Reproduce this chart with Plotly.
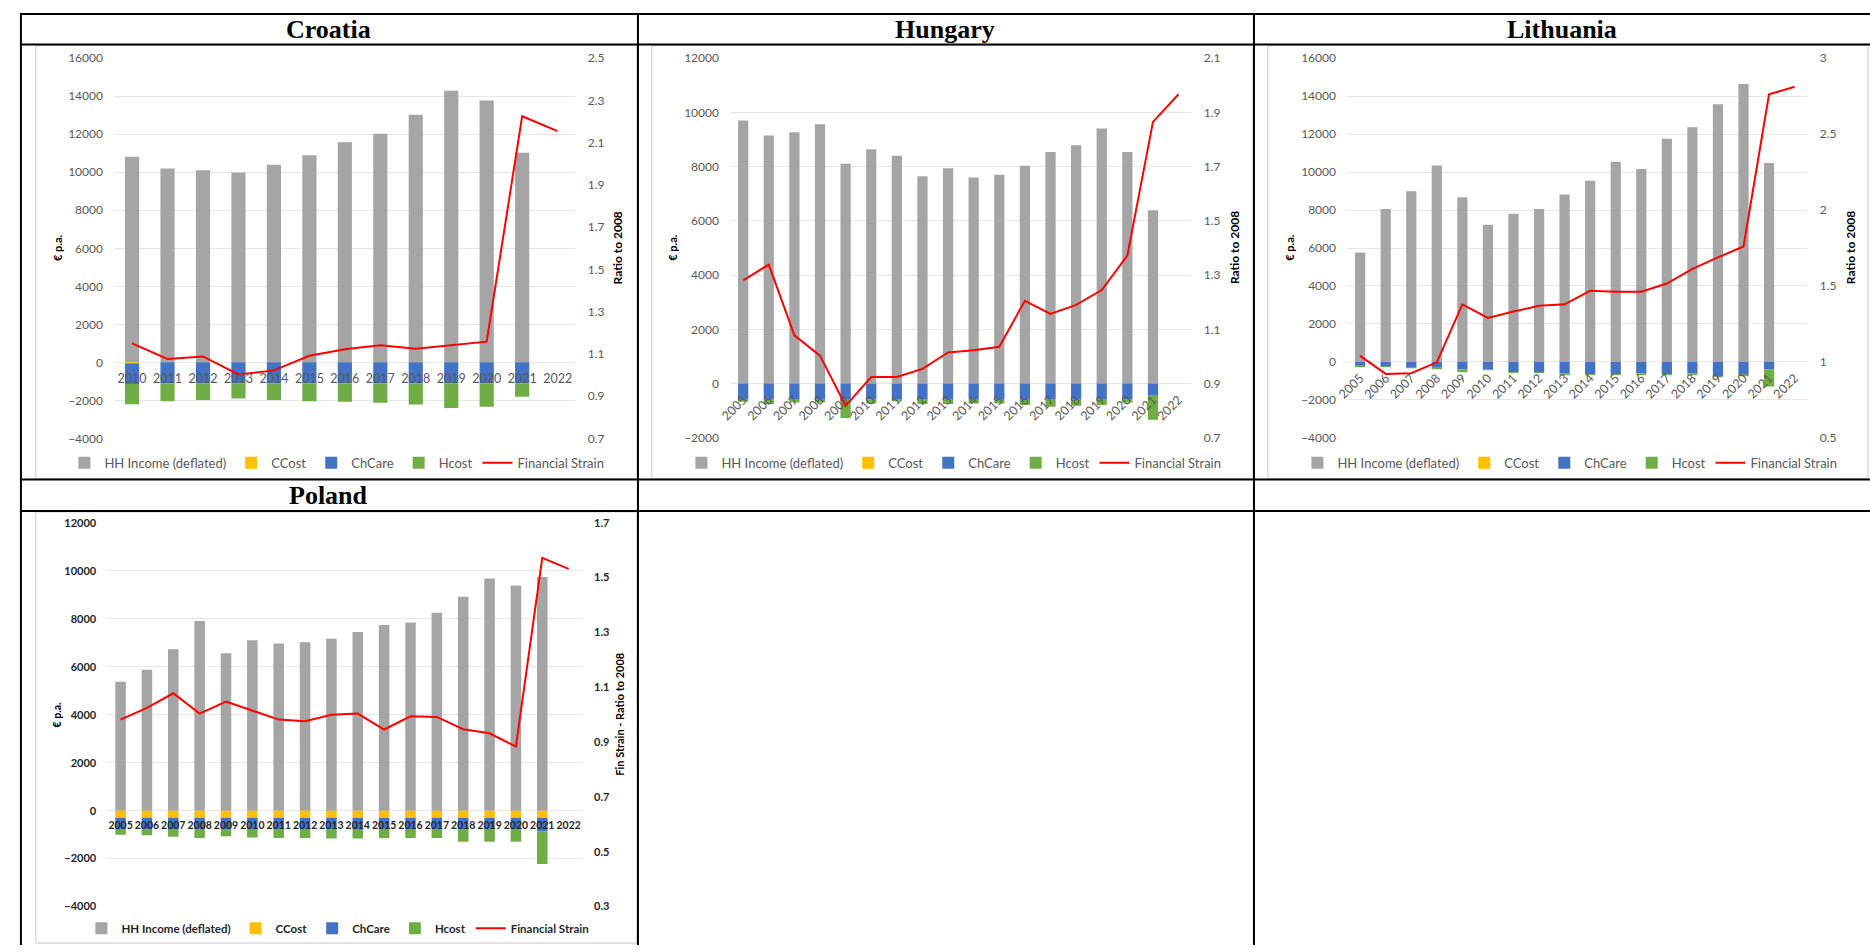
import plotly.graph_objects as go

W, H = 1870, 952

# ---- Croatia -------------------------------------------------------------
HR_YEARS = ["2010", "2011", "2012", "2013", "2014", "2015", "2016",
            "2017", "2018", "2019", "2020", "2021", "2022"]
HR_INCOME = [10820, 10200, 10100, 9990, 10400, 10890, 11580, 12030, 13030, 14290, 13770, 11030, None]
HR_CCOST = [-40, 0, 0, 0, 0, 0, 0, 0, 0, 0, 0, 0, None]
HR_CHCARE = [-1100, -1100, -1100, -1100, -1100, -1100, -1100, -1100, -1100, -1100, -1100, -1100, None]
HR_HCOST = [-1060, -940, -880, -800, -880, -940, -970, -1020, -1110, -1300, -1230, -710, None]
HR_STRAIN = [1.150, 1.076, 1.088, 1.003, 1.022, 1.091, 1.122, 1.141, 1.125, 1.143, 1.158, 2.225, 2.155]

# ---- Hungary -------------------------------------------------------------
HU_YEARS = ["2005", "2006", "2007", "2008", "2009", "2010", "2011", "2012", "2013",
            "2014", "2015", "2016", "2017", "2018", "2019", "2020", "2021", "2022"]
HU_INCOME = [9700, 9150, 9270, 9560, 8110, 8640, 8400, 7650, 7940, 7600, 7700, 8030,
             8540, 8790, 9410, 8540, 6390, None]
HU_CCOST = [0, 0, 0, 0, 0, 0, 0, 0, 0, 0, 0, 0, 0, 0, 0, 0, 0, None]
HU_CHCARE = [-600, -600, -600, -600, -600, -600, -600, -600, -600, -600, -600, -600,
             -600, -600, -600, -600, -420, None]
HU_HCOST = [-70, -150, -100, -100, -670, -130, -40, -150, -150, -130, -130, -190,
            -250, -220, -190, -100, -910, None]
HU_STRAIN = [1.281, 1.339, 1.078, 1.003, 0.818, 0.924, 0.924, 0.954, 1.015, 1.023, 1.036,
             1.205, 1.157, 1.190, 1.245, 1.372, 1.865, 1.967]

# ---- Lithuania -----------------------------------------------------------
LT_YEARS = HU_YEARS
LT_INCOME = [5770, 8060, 8990, 10350, 8680, 7230, 7810, 8060, 8820, 9540, 10540, 10160,
             11750, 12360, 13570, 14640, 10480, None]
LT_CCOST = [0, 0, 0, 0, 0, 0, 0, 0, 0, 0, 0, 0, 0, 0, 0, 0, 0, None]
LT_CHCARE = [-220, -260, -310, -310, -400, -400, -550, -570, -600, -660, -660, -600,
             -660, -600, -780, -690, -400, None]
LT_HCOST = [-40, -10, -10, -30, -150, -20, -20, -20, -90, -20, -20, -90,
            -20, -50, -20, -50, -900, None]
LT_STRAIN = [1.040, 0.921, 0.926, 0.997, 1.379, 1.289, 1.332, 1.369, 1.379, 1.468, 1.462,
             1.462, 1.516, 1.613, 1.688, 1.760, 2.762, 2.812]

# ---- Poland --------------------------------------------------------------
PL_YEARS = HU_YEARS
PL_INCOME = [5370, 5870, 6730, 7900, 6560, 7100, 6970, 7020, 7170, 7450, 7740, 7840,
             8250, 8920, 9680, 9380, 9740, None]
PL_CCOST = [-300, -300, -300, -300, -300, -300, -300, -300, -300, -300, -300, -300,
            -300, -300, -300, -300, -300, None]
PL_CHCARE = [-500, -500, -500, -500, -500, -500, -500, -500, -500, -500, -500, -500,
             -500, -500, -500, -500, -560, None]
PL_HCOST = [-200, -230, -290, -340, -270, -320, -340, -340, -360, -360, -340, -340,
            -340, -500, -500, -500, -1360, None]
PL_STRAIN = [0.982, 1.025, 1.078, 1.004, 1.048, 1.016, 0.982, 0.976, 1.000, 1.004, 0.946,
             0.994, 0.992, 0.947, 0.932, 0.884, 1.572, 1.532]

SERIES_NAMES = ["HH Income (deflated)", "CCost", "ChCare", "Hcost", "Financial Strain"]
COLORS = ["#A5A5A5", "#FFC000", "#4472C4", "#70AD47", "#FF0000"]


def fx(px):
    return px / W


def fy(py):
    return 1 - py / H


# plot box in pixels: (left, right, top, bottom)
PANELS = [
    dict(title="Croatia", title_xy=(319, 22), years=HR_YEARS,
         bars=[HR_INCOME, HR_CCOST, HR_CHCARE, HR_HCOST], strain=HR_STRAIN,
         box=(103, 567, 51, 437.3), left=(-4000, 16000, 2000), right=(0.7, 2.5, 0.2),
         tickangle=0, legend_xy=(327, 462), ylab_x=(46, 609), ylab2="Ratio to 2008", heavy=False),
    dict(title="Hungary", title_xy=(939, 22), years=HU_YEARS,
         bars=[HU_INCOME, HU_CCOST, HU_CHCARE, HU_HCOST], strain=HU_STRAIN,
         box=(723, 1187, 51, 436.7), left=(-2000, 12000, 2000), right=(0.7, 2.1, 0.2),
         tickangle=-45, legend_xy=(948, 462), ylab_x=(664, 1230), ylab2="Ratio to 2008", heavy=False),
    dict(title="Lithuania", title_xy=(1560, 22), years=LT_YEARS,
         bars=[LT_INCOME, LT_CCOST, LT_CHCARE, LT_HCOST], strain=LT_STRAIN,
         box=(1344, 1807, 51, 436.7), left=(-4000, 16000, 2000), right=(0.5, 3.0, 0.5),
         tickangle=-45, legend_xy=(1568, 462), ylab_x=(1285, 1850), ylab2="Ratio to 2008", heavy=False),
    dict(title="Poland", title_xy=(319, 495), years=PL_YEARS,
         bars=[PL_INCOME, PL_CCOST, PL_CHCARE, PL_HCOST], strain=PL_STRAIN,
         box=(96, 573.5, 523, 913), left=(-4000, 12000, 2000), right=(0.3, 1.7, 0.2),
         tickangle=0, legend_xy=(328, 935), ylab_x=(45, 612), ylab2="Fin Strain - Ratio to 2008", heavy=True),
]

fig = go.Figure()
layout = dict(
    width=W, height=H, margin=dict(l=0, r=0, t=0, b=0),
    paper_bgcolor="white", plot_bgcolor="rgba(0,0,0,0)",
    barmode="relative", font=dict(family="Lato", size=12, color="#595959"),
    showlegend=True,
)
annotations = []
shapes = []

for i, p in enumerate(PANELS, start=1):
    xa = "x" if i == 1 else f"x{i}"
    ya = "y" if i == 1 else f"y{2 * i - 1}"
    ya2 = f"y{2 * i}"
    leg = "legend" if i == 1 else f"legend{i}"
    l, r, t, b = p["box"]
    lo, hi, step = p["left"]
    rlo, rhi, rstep = p["right"]
    n = len(p["years"])

    if p["heavy"]:
        tfont = dict(family="Lato", size=11, color="#262626", weight="bold")
        xfont = dict(family="Lato", size=10.5, color="#262626", weight="bold")
    else:
        tfont = dict(family="Lato", size=12, color="#595959")
        xfont = dict(family="Lato", size=12.5, color="#595959")

    # stacked bars: income above zero, cost components stacked below it
    for k in range(4):
        fig.add_trace(go.Bar(
            x=p["years"], y=p["bars"][k], name=SERIES_NAMES[k],
            marker=dict(color=COLORS[k], line=dict(width=0)), width=0.4,
            xaxis=xa, yaxis=ya, legend=leg, hoverinfo="x+y+name"))
    # financial strain ratio on the secondary axis
    fig.add_trace(go.Scatter(
        x=p["years"], y=p["strain"], name=SERIES_NAMES[4], mode="lines",
        line=dict(color=COLORS[4], width=2), xaxis=xa, yaxis=ya2, legend=leg))

    # category labels sit on the zero line of the money axis
    zero_px = t + (hi - 0) / (hi - lo) * (b - t)
    layout["xaxis" if i == 1 else f"xaxis{i}"] = dict(
        domain=[fx(l), fx(r)], anchor="free", position=fy(zero_px),
        type="category", categoryorder="array", categoryarray=p["years"],
        range=[-0.5, n - 0.5], showgrid=False, showline=False, zeroline=False,
        ticks="outside", ticklen=5 if p["tickangle"] == 0 else 3, tickcolor="rgba(0,0,0,0)",
        tickangle=p["tickangle"], tickfont=xfont, fixedrange=True)
    layout["yaxis" if i == 1 else f"yaxis{2 * i - 1}"] = dict(
        domain=[fy(b), fy(t)], anchor=xa, range=[lo, hi], tick0=lo, dtick=step,
        tickformat="d", showgrid=True, gridcolor="#E6E6E6", gridwidth=1,
        zeroline=True, zerolinecolor="#E6E6E6", zerolinewidth=1,
        showline=False, ticks="outside", ticklen=8, tickcolor="rgba(0,0,0,0)",
        tickfont=tfont, fixedrange=True)
    layout[f"yaxis{2 * i}"] = dict(
        overlaying=ya, side="right", anchor=xa, range=[rlo, rhi], tick0=rlo, dtick=rstep,
        showgrid=False, zeroline=False, showline=False,
        ticks="outside", ticklen=9, tickcolor="rgba(0,0,0,0)",
        tickfont=tfont, fixedrange=True)

    lfont = dict(family="Lato", size=13 if not p["heavy"] else 11.5,
                 color="#595959" if not p["heavy"] else "#262626",
                 weight="normal" if not p["heavy"] else "bold")
    layout[leg] = dict(
        orientation="h", x=fx(p["legend_xy"][0]), y=fy(p["legend_xy"][1]),
        xanchor="center", yanchor="middle", bgcolor="rgba(0,0,0,0)",
        font=lfont, itemwidth=30, traceorder="normal", tracegroupgap=0)

    # country heading in the table's title row
    annotations.append(dict(
        text=f"<b>{p['title']}</b>", x=fx(p["title_xy"][0]), y=fy(p["title_xy"][1]),
        xref="paper", yref="paper", showarrow=False, xanchor="center", yanchor="middle",
        font=dict(family="Liberation Serif", size=26, color="black")))
    # axis titles
    cy = fy((t + b) / 2)
    annotations.append(dict(
        text="<b>€ p.a.</b>", x=fx(p["ylab_x"][0]), y=cy, xref="paper", yref="paper",
        showarrow=False, textangle=-90, xanchor="center", yanchor="middle",
        font=dict(family="Lato", size=11 if not p["heavy"] else 10.5, color="black")))
    annotations.append(dict(
        text=f"<b>{p['ylab2']}</b>", x=fx(p["ylab_x"][1]), y=cy, xref="paper", yref="paper",
        showarrow=False, textangle=-90, xanchor="center", yanchor="middle",
        font=dict(family="Lato", size=12 if not p["heavy"] else 11, color="black")))

# light frames around each chart cell
for (x0, y0, x1, y1) in [(24, 38, 629, 478), (644, 38, 1249, 478),
                         (1264, 38, 1868, 478), (24, 512, 629, 950)]:
    shapes.append(dict(type="rect", xref="paper", yref="paper",
                       x0=fx(x0), x1=fx(x1), y0=fy(y1), y1=fy(y0),
                       line=dict(color="#C8C8C8", width=1), layer="below"))

# black table rules
for yy in [6, 37, 479, 511]:
    shapes.append(dict(type="line", xref="paper", yref="paper",
                       x0=fx(8), x1=fx(1870), y0=fy(yy), y1=fy(yy),
                       line=dict(color="black", width=2)))
for xx in [9, 630, 1250]:
    shapes.append(dict(type="line", xref="paper", yref="paper",
                       x0=fx(xx), x1=fx(xx), y0=fy(5), y1=fy(952),
                       line=dict(color="black", width=2)))

layout["annotations"] = annotations
layout["shapes"] = shapes
fig.update_layout(**layout)

# page without the default body margin so the figure fills the window exactly
fig.write_html("out.html", post_script="document.body.style.margin='0px';")
